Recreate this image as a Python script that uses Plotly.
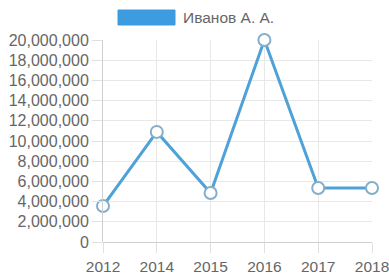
import plotly.graph_objects as go

years = ["2012", "2014", "2015", "2016", "2017", "2018"]
values = [3560000, 10900000, 4850000, 20000000, 5340000, 5340000]
series_name = "Иванов А. А."
y_ticks = list(range(0, 20000001, 2000000))

fig = go.Figure()
fig.add_trace(go.Scatter(
    x=years, y=values, mode="lines+markers", name=series_name,
    line=dict(color="#4ea2d7", width=3),
    marker=dict(size=12, color="white", line=dict(color="#86aecb", width=2)),
    cliponaxis=False, showlegend=False,
))

fig.update_layout(
    width=389, height=277,
    margin=dict(l=103, r=17, t=40, b=35),
    paper_bgcolor="white", plot_bgcolor="white",
    font=dict(family="Liberation Sans", size=16, color="#666"),
    xaxis=dict(type="category", range=[0, 5], showgrid=True, gridcolor="#e8e8e8",
               ticks="outside", ticklen=10, tickcolor="#e0e0e0", automargin=False,
               tickfont=dict(size=15.5),
               showline=False, zeroline=False, fixedrange=True),
    yaxis=dict(range=[0, 20000000], tickvals=y_ticks, tickformat=",d", automargin=False,
               showgrid=True, gridcolor="#e8e8e8", ticks="outside", ticklen=10,
               tickcolor="#e0e0e0", showline=True, linecolor="#cfcfcf", linewidth=1,
               zeroline=True, zerolinecolor="#cfcfcf", zerolinewidth=1),
    shapes=[dict(type="rect", xref="paper", yref="paper",
                 x0=0.0558, x1=0.2677, y0=1.0743, y1=1.1485,
                 fillcolor="#3d9be0", line=dict(color="#3d9be0", width=1))],
    annotations=[dict(text=series_name, xref="paper", yref="paper",
                      x=0.2900, y=1.111, xanchor="left", yanchor="middle",
                      showarrow=False, font=dict(size=15.5, color="#666"))],
)

fig.write_html(
    "out.html",
    config={"displayModeBar": False},
    post_script="document.body.style.margin='0';document.documentElement.style.overflow='hidden';",
)
